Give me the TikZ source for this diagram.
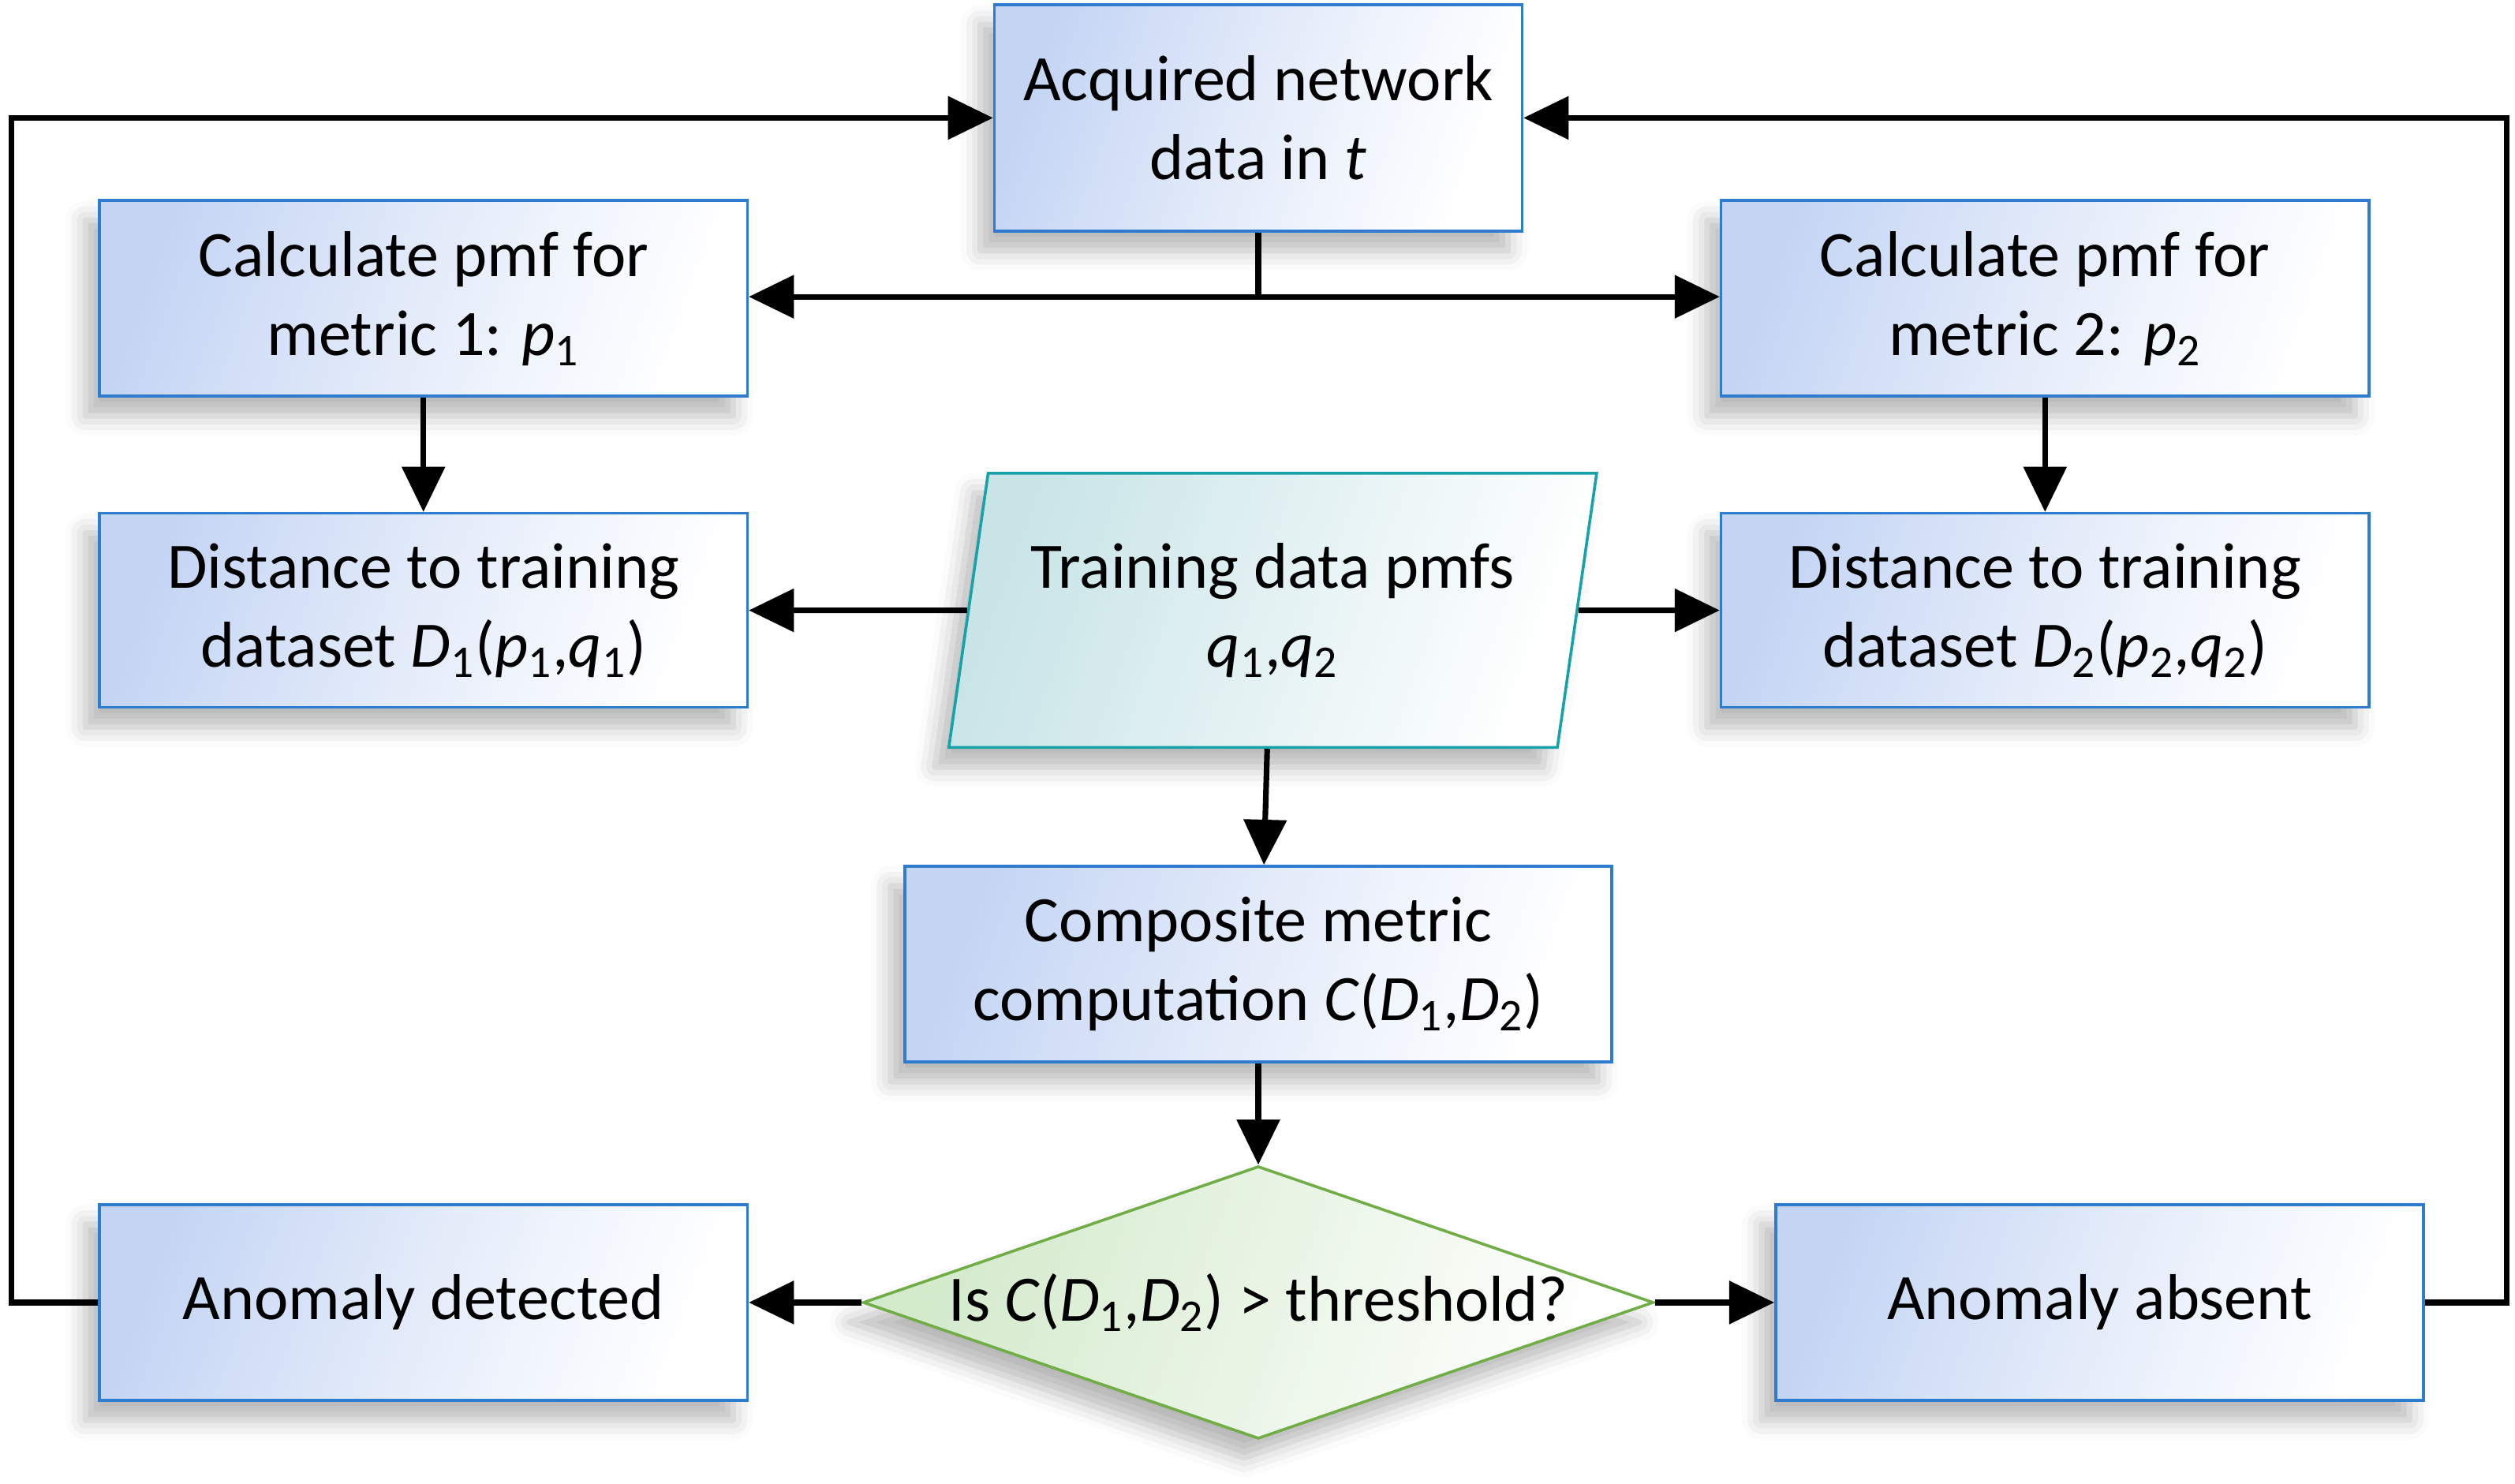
\documentclass[tikz,border=0pt]{standalone}
\usepackage{fontspec}
\setmainfont{Carlito}
\usetikzlibrary{shapes.geometric,arrows.meta,shadows.blur,calc}
\definecolor{boxblue}{HTML}{C4D5F4}
\definecolor{boxline}{HTML}{2E7BCF}
\definecolor{tealfill}{HTML}{C8E4E7}
\definecolor{tealline}{HTML}{17A2A8}
\definecolor{greenfill}{HTML}{D3EACB}
\definecolor{greenline}{HTML}{70AD47}
\tikzset{
  shd/.style={blur shadow={shadow xshift=-5pt,shadow yshift=-7pt,shadow blur radius=7pt,shadow opacity=28}},
  txt/.style={font=\fontsize{23}{28}\selectfont,align=center},
  pbox/.style={rectangle,draw=boxline,line width=1pt,left color=boxblue,right color=white,middle color=boxblue!45!white,shading angle=70,shd,txt,inner sep=2pt},
  databox/.style={trapezium,trapezium stretches=true,trapezium left angle=76.8,trapezium right angle=103.2,draw=tealline,line width=1pt,left color=tealfill,right color=white,shading angle=70,shd,txt,inner sep=2pt},
  decbox/.style={diamond,aspect=2.9,draw=greenline,line width=1pt,left color=greenfill,right color=white,shading angle=70,shd,inner sep=0pt},
  arr/.style={line width=2pt,-{Triangle[length=16pt,width=15pt]}},
  ln/.style={line width=2pt}
}
\newcommand{\sbs}[1]{\textsubscript{#1}}
\begin{document}
\begin{tikzpicture}[x=0.02cm,y=-0.02cm]
\useasboundingbox (0,0) rectangle (1568,925);
\node[pbox,minimum width=6.58cm,minimum height=2.82cm] (acq) at (784.5,73.5) {Acquired network\\data in \textit{t}};
\node[pbox,minimum width=8.08cm,minimum height=2.44cm] (calc1) at (264,186) {Calculate pmf for\\metric 1: \textit{p}\sbs{1}};
\node[pbox,minimum width=8.08cm,minimum height=2.44cm] (calc2) at (1275,186) {Calculate pmf for\\metric 2: \textit{p}\sbs{2}};
\node[pbox,minimum width=8.08cm,minimum height=2.42cm] (dist1) at (264,380.5) {Distance to training\\dataset \textit{D}\sbs{1}(\textit{p}\sbs{1},\textit{q}\sbs{1})};
\node[pbox,minimum width=8.08cm,minimum height=2.42cm] (dist2) at (1275,380.5) {Distance to training\\dataset \textit{D}\sbs{2}(\textit{p}\sbs{2},\textit{q}\sbs{2})};
\node[databox,minimum width=8.1cm,minimum height=3.42cm] (train) at (793.5,380.5) {Training data pmfs\\\textit{q}\sbs{1},\textit{q}\sbs{2}};
\node[pbox,minimum width=8.82cm,minimum height=2.44cm] (comp) at (784.5,601) {Composite metric\\computation \textit{C}(\textit{D}\sbs{1},\textit{D}\sbs{2})};
\node[decbox,minimum width=9.86cm,minimum height=3.4cm] (dec) at (784.5,812) {};
\node[txt] (dectext) at (dec.center) {Is \textit{C}(\textit{D}\sbs{1},\textit{D}\sbs{2}) > threshold?};
\node[pbox,minimum width=8.08cm,minimum height=2.44cm] (det) at (264,812) {Anomaly detected};
\node[pbox,minimum width=8.08cm,minimum height=2.44cm] (abs) at (1309,812) {Anomaly absent};
\coordinate (lx) at (7,0);
\coordinate (rx) at (1563,0);
\coordinate (bus) at (784.5,185);
% connectors
\draw[ln] (acq.south) -- (bus);
\draw[arr] (bus) -- (bus -| calc1.east);
\draw[arr] (bus) -- (bus -| calc2.west);
\draw[arr] (calc1.south) -- (dist1.north);
\draw[arr] (calc2.south) -- (dist2.north);
\draw[arr] (train.west) -- (dist1.east);
\draw[arr] (train.east) -- (dist2.west);
\draw[arr] ([xshift=-0.07cm]train.south) -- ([xshift=0.07cm]comp.north);
\draw[arr] (comp.south) -- (dec.north);
\draw[arr] (dec.west) -- (det.east);
\draw[arr] (dec.east) -- (abs.west);
\draw[arr] (det.west) -- (det.west -| lx) |- (acq.west);
\draw[arr] (abs.east) -- (abs.east -| rx) |- (acq.east);
\end{tikzpicture}
\end{document}
